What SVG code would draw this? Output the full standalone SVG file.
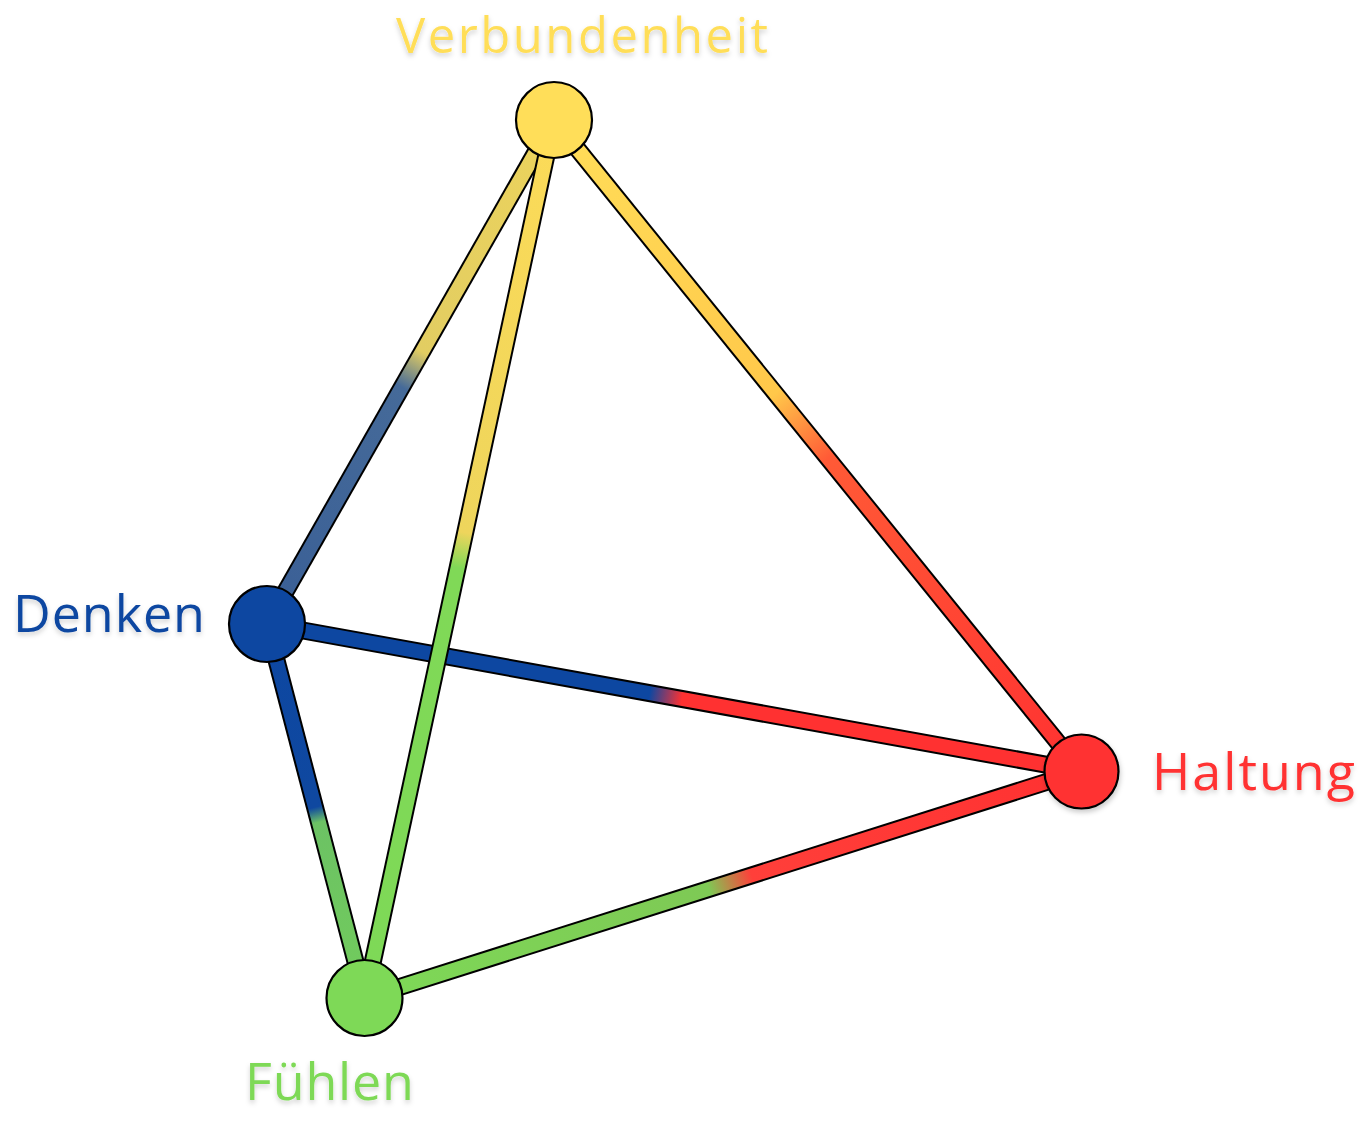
<svg xmlns="http://www.w3.org/2000/svg" width="1367" height="1131" viewBox="0 0 1367 1131">
  <defs>
    <filter id="tshadow" x="-10%" y="-30%" width="120%" height="170%">
      <feDropShadow dx="0" dy="3" stdDeviation="2.5" flood-color="#000" flood-opacity="0.18"/>
    </filter>
    <filter id="cshadow" x="-30%" y="-30%" width="160%" height="160%">
      <feDropShadow dx="1" dy="3" stdDeviation="2.5" flood-color="#000" flood-opacity="0.2"/>
    </filter>
    <linearGradient id="gVD" gradientUnits="userSpaceOnUse" x1="554" y1="120" x2="267" y2="624">
      <stop offset="0" stop-color="#ecd35c"/>
      <stop offset="0.46" stop-color="#e2cd62"/>
      <stop offset="0.53" stop-color="#456a99"/>
      <stop offset="1" stop-color="#3a5f96"/>
    </linearGradient>
    <linearGradient id="gVF" gradientUnits="userSpaceOnUse" x1="554" y1="120" x2="365" y2="998">
      <stop offset="0" stop-color="#fcdb58"/>
      <stop offset="0.47" stop-color="#eed55c"/>
      <stop offset="0.51" stop-color="#80d957"/>
      <stop offset="1" stop-color="#7ed957"/>
    </linearGradient>
    <linearGradient id="gVH" gradientUnits="userSpaceOnUse" x1="554" y1="120" x2="1081" y2="771">
      <stop offset="0" stop-color="#ffde59"/>
      <stop offset="0.42" stop-color="#ffc84a"/>
      <stop offset="0.52" stop-color="#ff5a36"/>
      <stop offset="1" stop-color="#ff3131"/>
    </linearGradient>
    <linearGradient id="gDH" gradientUnits="userSpaceOnUse" x1="267" y1="624" x2="1081" y2="771">
      <stop offset="0" stop-color="#0d47a1"/>
      <stop offset="0.47" stop-color="#0d47a1"/>
      <stop offset="0.51" stop-color="#ff3131"/>
      <stop offset="1" stop-color="#ff3131"/>
    </linearGradient>
    <linearGradient id="gFH" gradientUnits="userSpaceOnUse" x1="365" y1="998" x2="1081" y2="771">
      <stop offset="0" stop-color="#7ed957"/>
      <stop offset="0.48" stop-color="#7ec955"/>
      <stop offset="0.54" stop-color="#ff3f3a"/>
      <stop offset="1" stop-color="#ff3131"/>
    </linearGradient>
    <linearGradient id="gDF" gradientUnits="userSpaceOnUse" x1="267" y1="624" x2="365" y2="998">
      <stop offset="0" stop-color="#0d47a1"/>
      <stop offset="0.49" stop-color="#0f48a0"/>
      <stop offset="0.53" stop-color="#6cc264"/>
      <stop offset="1" stop-color="#72cc5c"/>
    </linearGradient>
  </defs>
  <style>
    .edge-out { stroke: #000; stroke-width: 18; fill: none; stroke-linecap: butt; }
    .edge-in { stroke-width: 14; fill: none; stroke-linecap: butt; }
    .node { stroke: #000; stroke-width: 2.2; }
    .lbl { font-family: "Open Sans", "Liberation Sans", sans-serif; font-size: 52px; filter: url(#tshadow); }
  </style>
  <rect width="1367" height="1131" fill="#fff"/>
  <g id="connectors">
    <g id="edge-V-D">
      <line class="edge-out" x1="554" y1="120" x2="267" y2="624"/>
      <line class="edge-in" x1="554" y1="120" x2="267" y2="624" stroke="url(#gVD)"/>
    </g>
    <g id="edge-V-H">
      <line class="edge-out" x1="554" y1="120" x2="1081" y2="771"/>
      <line class="edge-in" x1="554" y1="120" x2="1081" y2="771" stroke="url(#gVH)"/>
    </g>
    <g id="edge-D-F">
      <line class="edge-out" x1="267" y1="624" x2="365" y2="998"/>
      <line class="edge-in" x1="267" y1="624" x2="365" y2="998" stroke="url(#gDF)"/>
    </g>
    <g id="edge-F-H">
      <line class="edge-out" x1="365" y1="998" x2="1081" y2="771"/>
      <line class="edge-in" x1="365" y1="998" x2="1081" y2="771" stroke="url(#gFH)"/>
    </g>
    <g id="edge-D-H">
      <line class="edge-out" x1="267" y1="624" x2="1081" y2="771"/>
      <line class="edge-in" x1="267" y1="624" x2="1081" y2="771" stroke="url(#gDH)"/>
    </g>
    <g id="edge-V-F">
      <line class="edge-out" x1="554" y1="120" x2="365" y2="998" stroke-width="20"/>
      <line class="edge-in" x1="554" y1="120" x2="365" y2="998" stroke-width="16" stroke="url(#gVF)"/>
    </g>
  </g>
  <g id="node-verbundenheit">
    <circle class="node" cx="554" cy="120" r="38" fill="#ffde59"/>
    <text class="lbl" x="396" y="53" textLength="372" fill="#ffde59" style="font-size:49px">Verbundenheit</text>
  </g>
  <g id="node-denken">
    <circle class="node" cx="267" cy="624" r="38" fill="#0d47a1"/>
    <text class="lbl" x="13" y="632" textLength="192" fill="#0d47a1">Denken</text>
  </g>
  <g id="node-haltung">
    <circle class="node" cx="1081.5" cy="771.5" r="37" fill="#ff3131" stroke-width="3.5" filter="url(#cshadow)"/>
    <text class="lbl" x="1152" y="790" textLength="203" fill="#ff3131">Haltung</text>
  </g>
  <g id="node-fuehlen">
    <circle class="node" cx="364.5" cy="998" r="38" fill="#7ed957"/>
    <text class="lbl" x="245" y="1100" textLength="169" fill="#7ed957">Fühlen</text>
  </g>
</svg>
